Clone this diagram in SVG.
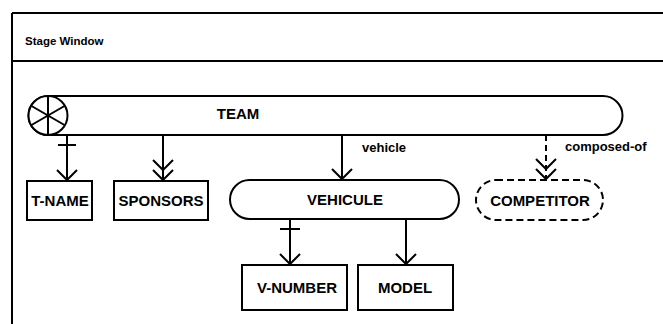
<svg xmlns="http://www.w3.org/2000/svg" width="663" height="324" viewBox="0 0 663 324">
<style>
  .ln{fill:none;stroke:#000;stroke-width:2}
  .box{fill:#fff;stroke:#000;stroke-width:2}
  .dash{stroke-dasharray:7 4}
  .t{font-family:"Liberation Sans",Arial,Helvetica,sans-serif;font-weight:bold;font-size:15px;fill:#000;text-anchor:middle}
  .lab{font-family:"Liberation Sans",Arial,Helvetica,sans-serif;font-weight:bold;font-size:13px;fill:#000}
</style>
<defs>
  <marker id="arr" markerUnits="userSpaceOnUse" orient="auto" refX="0" refY="0" markerWidth="30" markerHeight="30" viewBox="-25 -15 30 30" overflow="visible">
    <path d="M-10,-10 L0,0 L-10,10" fill="none" stroke="#000" stroke-width="2"/>
  </marker>
  <marker id="arr2" markerUnits="userSpaceOnUse" orient="auto" refX="0" refY="0" markerWidth="30" markerHeight="30" viewBox="-25 -15 30 30" overflow="visible">
    <path d="M-10,-10 L0,0 L-10,10 M-20,-10 L-10,0 L-20,10" fill="none" stroke="#000" stroke-width="2"/>
  </marker>
</defs>
<rect x="0" y="0" width="663" height="324" fill="#fff"/>
<g id="window">
  <path class="ln" d="M12,13 H663 M12,61 H663 M12,13 V324"/>
  <text class="lab" x="25" y="45" style="font-size:11.5px">Stage Window</text>
</g>
<g id="connectors">
  <path class="ln" d="M67,135 V180" marker-end="url(#arr)"/>
  <path class="ln" d="M58,145 H76"/>
  <path class="ln" d="M163,135 V180" marker-end="url(#arr2)"/>
  <path class="ln" d="M342,135 V179" marker-end="url(#arr)"/>
  <text class="lab" x="362" y="152">vehicle</text>
  <path class="ln" d="M546,135 V179" stroke-dasharray="6 4" marker-end="url(#arr2)"/>
  <text class="lab" x="565" y="151">composed-of</text>
  <path class="ln" d="M290,219 V264" marker-end="url(#arr)"/>
  <path class="ln" d="M280,229 H300"/>
  <path class="ln" d="M406,219 V264" marker-end="url(#arr)"/>
</g>
<g id="team">
  <rect class="box" x="28.5" y="96" width="594" height="39" rx="19.5"/>
  <circle class="box" cx="48" cy="115.5" r="19.5"/>
  <path class="ln" d="M48,96 V135 M31.1,105.75 L64.9,125.25 M31.1,125.25 L64.9,105.75"/>
  <text class="t" x="238" y="119">TEAM</text>
</g>
<g id="t-name">
  <rect class="box" x="27" y="181" width="65" height="39"/>
  <text class="t" x="60" y="206">T-NAME</text>
</g>
<g id="sponsors">
  <rect class="box" x="114" y="181" width="94" height="39"/>
  <text class="t" x="161" y="206">SPONSORS</text>
</g>
<g id="vehicule">
  <rect class="box" x="230" y="180" width="229" height="39" rx="19.5"/>
  <text class="t" x="345" y="205">VEHICULE</text>
</g>
<g id="competitor">
  <rect class="box dash" x="476" y="180" width="127" height="40" rx="20"/>
  <text class="t" x="540" y="206">COMPETITOR</text>
</g>
<g id="v-number">
  <rect class="box" x="242" y="265" width="105" height="45"/>
  <text class="t" x="297" y="293">V-NUMBER</text>
</g>
<g id="model">
  <rect class="box" x="358" y="265" width="95" height="45"/>
  <text class="t" x="405" y="293">MODEL</text>
</g>
</svg>
